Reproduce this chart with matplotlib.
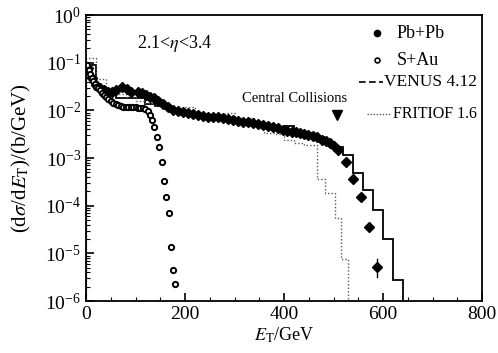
import numpy as np
import matplotlib
matplotlib.use("Agg")
import matplotlib.pyplot as plt
from matplotlib.ticker import LogLocator, MultipleLocator, NullFormatter

plt.rcParams["font.family"] = ["Liberation Serif", "DejaVu Serif"]
plt.rcParams["mathtext.fontset"] = "stix"

# Pb+Pb (filled diamonds): E_T [GeV], log10(dsigma/dE_T)
pb_et = [5, 12, 20, 28, 36, 44, 52, 60, 73, 83, 91, 105, 113, 121, 129, 137,
         146, 155, 166, 176, 186, 196, 206, 216, 226, 236, 247, 257, 267, 277,
         287, 297, 307, 317, 327, 337, 348, 358, 368, 378, 388, 398, 407, 416,
         424, 432, 440, 448, 458, 467, 477, 485, 493, 501, 509, 525, 539, 556,
         572, 588]
pb_log = [-1.12, -1.33, -1.46, -1.53, -1.58, -1.61, -1.62, -1.58, -1.51, -1.56,
          -1.61, -1.61, -1.64, -1.67, -1.71, -1.75, -1.80, -1.87, -1.94, -1.99,
          -2.01, -2.03, -2.06, -2.08, -2.10, -2.12, -2.13, -2.14, -2.15, -2.16,
          -2.18, -2.20, -2.22, -2.24, -2.25, -2.26, -2.29, -2.31, -2.33, -2.35,
          -2.38, -2.41, -2.43, -2.45, -2.46, -2.47, -2.50, -2.52, -2.54, -2.56,
          -2.62, -2.65, -2.68, -2.74, -2.83, -3.08, -3.44, -3.82, -4.44, -5.28]
# error bar on the last Pb+Pb point
pb_err_et = [588]
pb_err_log = [(-5.49, -5.12)]

# S+Au (open circles)
sau_et = [3, 6, 9, 12, 15, 18, 21, 24, 28, 32, 36, 40, 45, 50, 55, 60, 65, 70,
          75, 80, 85, 90, 95, 100, 105, 110, 115, 120, 125, 130, 134, 137, 143,
          148, 153, 158, 162, 167, 172, 176, 180]
sau_log = [-1.05, -1.15, -1.24, -1.32, -1.39, -1.45, -1.50, -1.54, -1.58, -1.63,
           -1.67, -1.71, -1.76, -1.80, -1.84, -1.87, -1.89, -1.91, -1.92, -1.93,
           -1.93, -1.93, -1.94, -1.94, -1.95, -1.95, -1.96, -1.98, -2.02, -2.10,
           -2.20, -2.35, -2.56, -2.77, -3.08, -3.48, -3.82, -4.15, -4.86, -5.35,
           -5.64]

# VENUS 4.12 histogram (20 GeV bins, 0-640)
venus_edges = list(range(0, 660, 20))
venus_log = [-1.05, -1.50, -1.62, -1.74, -1.74, -1.74, -1.86, -1.90, -1.95,
             -2.00, -2.05, -2.09, -2.12, -2.15, -2.18, -2.21, -2.24, -2.28,
             -2.32, -2.36, -2.33, -2.43, -2.48, -2.55, -2.68, -2.77, -2.94,
             -3.31, -3.67, -4.09, -4.70, -5.56]

# FRITIOF 1.6 histogram
frit_edges = list(range(0, 460, 20)) + [467, 483, 503, 515, 530]
frit_log = [-0.90, -1.35, -1.55, -1.65, -1.72, -1.80, -1.85, -1.90, -1.95,
            -1.97, -1.93, -2.08, -2.07, -2.10, -2.05, -2.17, -2.16, -2.30,
            -2.47, -2.50, -2.62, -2.68, -2.73, -3.44, -3.73, -4.25, -5.12]

fig = plt.figure(figsize=(4.98, 3.53), dpi=100)
ax = fig.add_axes([0.1727, 0.1473, 0.7952, 0.8102])

ax.stairs(10 ** np.array(venus_log), venus_edges, baseline=1e-9,
          color="black", lw=1.3)
ax.stairs(10 ** np.array(frit_log), frit_edges, baseline=1e-9,
          color="0.35", lw=1.0, linestyle=(0, (1, 1.5)))

ax.plot(pb_et, 10 ** np.array(pb_log), "D", ms=4.6, color="black", mec="black")
for e, (lo, hi) in zip(pb_err_et, pb_err_log):
    ax.plot([e, e], [10 ** lo, 10 ** hi], color="black", lw=1.0)
ax.plot(sau_et, 10 ** np.array(sau_log), "o", ms=3.8, mfc="white",
        mec="black", mew=1.4)

ax.set_yscale("log")
ax.set_xlim(0, 800)
ax.set_ylim(1e-6, 1)
ax.xaxis.set_major_locator(MultipleLocator(200))
ax.xaxis.set_minor_locator(MultipleLocator(50))
ax.yaxis.set_major_locator(LogLocator(base=10, numticks=10))
ax.yaxis.set_minor_locator(LogLocator(base=10, subs=np.arange(2, 10), numticks=20))
ax.yaxis.set_minor_formatter(NullFormatter())
ax.tick_params(which="both", direction="in", top=False, right=False,
               labelsize=14)
ax.tick_params(which="major", length=6, width=1.2)
ax.tick_params(which="minor", length=3, width=0.8)
for s in ax.spines.values():
    s.set_linewidth(1.3)

ax.set_xlabel(r"$E_{\rm T}$/GeV", fontsize=13, labelpad=2)
ax.set_ylabel(r"(d$\sigma$/d$E_{\rm T}$)/(b/GeV)", fontsize=15)
ax.yaxis.set_label_coords(-0.135, 0.5)

ax.text(0.13, 0.90, r"2.1<$\eta$<3.4", transform=ax.transAxes, fontsize=13,
        va="center")
ax.text(422, 10 ** -1.76, "Central Collisions", ha="center", va="center",
        fontsize=10.5)
ax.plot([507], [10 ** -2.1], "v", ms=7, color="black")

# legend drawn by hand to keep the uneven row spacing
lx, tx = 0.735, 0.785
ax.plot([lx], [0.936], "o", ms=4.5, color="black", transform=ax.transAxes)
ax.text(tx, 0.936, "Pb+Pb", transform=ax.transAxes, fontsize=13, va="center")
ax.plot([lx], [0.842], "o", ms=3.5, mfc="white", mec="black", mew=1.2,
        transform=ax.transAxes)
ax.text(tx, 0.842, "S+Au", transform=ax.transAxes, fontsize=13, va="center")
ax.plot([0.69, 0.75], [0.765, 0.765], color="black", lw=1.2,
        linestyle=(0, (4, 2)), transform=ax.transAxes)
ax.text(0.752, 0.765, "VENUS 4.12", transform=ax.transAxes, fontsize=12.5,
        va="center")
ax.plot([0.71, 0.77], [0.655, 0.655], color="0.35", lw=1.0,
        linestyle=(0, (1, 1.2)), transform=ax.transAxes)
ax.text(0.775, 0.655, "FRITIOF 1.6", transform=ax.transAxes, fontsize=11.5,
        va="center")

fig.savefig("out.png", dpi=100)
